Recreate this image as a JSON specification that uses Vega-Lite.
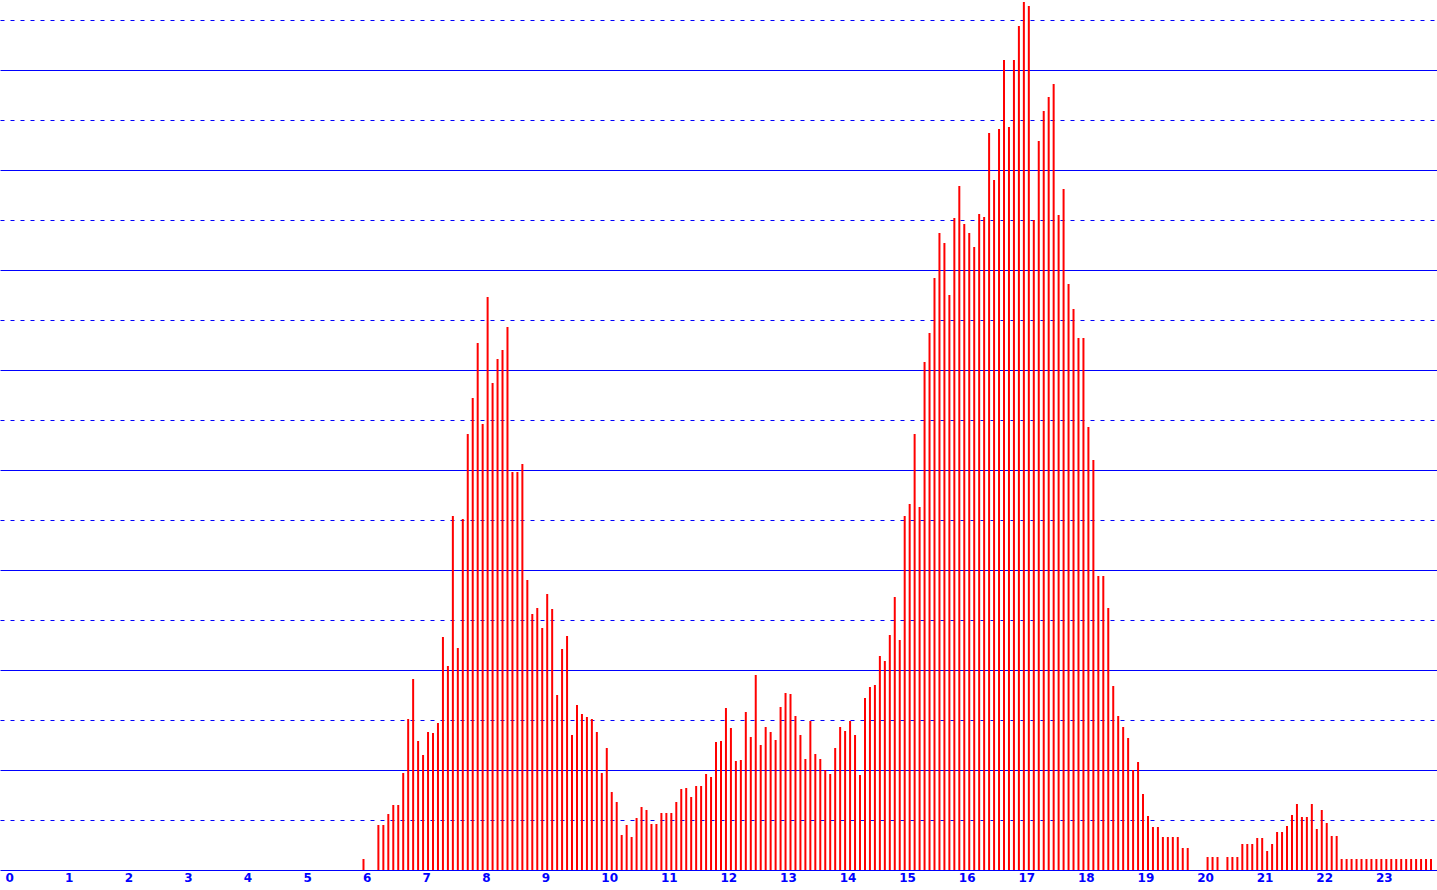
{
  "$schema": "https://vega.github.io/schema/vega-lite/v6.json",
  "width": 1437,
  "height": 870,
  "autosize": {"type": "none"},
  "padding": {"left": 0, "top": 0, "right": 0, "bottom": 20},
  "background": "white",
  "config": {"view": {"stroke": null}},
  "data": {"values": [
    {"t":360,"v":1.1},{"t":365,"v":0},{"t":370,"v":0},{"t":375,"v":4.5},{"t":380,"v":4.5},{"t":385,"v":5.6},
    {"t":390,"v":6.5},{"t":395,"v":6.5},{"t":400,"v":9.7},{"t":405,"v":15.1},{"t":410,"v":19.1},{"t":415,"v":12.9},
    {"t":420,"v":11.5},{"t":425,"v":13.8},{"t":430,"v":13.7},{"t":435,"v":14.7},{"t":440,"v":23.3},{"t":445,"v":20.4},
    {"t":450,"v":35.4},{"t":455,"v":22.2},{"t":460,"v":35.1},{"t":465,"v":43.6},{"t":470,"v":47.2},{"t":475,"v":52.7},
    {"t":480,"v":44.6},{"t":485,"v":57.3},{"t":490,"v":48.7},{"t":495,"v":51.1},{"t":500,"v":52.0},{"t":505,"v":54.3},
    {"t":510,"v":39.8},{"t":515,"v":39.8},{"t":520,"v":40.6},{"t":525,"v":29.0},{"t":530,"v":25.6},{"t":535,"v":26.2},
    {"t":540,"v":24.2},{"t":545,"v":27.6},{"t":550,"v":26.1},{"t":555,"v":17.5},{"t":560,"v":22.1},{"t":565,"v":23.4},
    {"t":570,"v":13.5},{"t":575,"v":16.5},{"t":580,"v":15.6},{"t":585,"v":15.3},{"t":590,"v":15.1},{"t":595,"v":13.8},
    {"t":600,"v":9.7},{"t":605,"v":12.2},{"t":610,"v":7.8},{"t":615,"v":6.8},{"t":620,"v":3.5},{"t":625,"v":4.5},
    {"t":630,"v":3.3},{"t":635,"v":5.2},{"t":640,"v":6.3},{"t":645,"v":6.0},{"t":650,"v":4.6},{"t":655,"v":4.6},
    {"t":660,"v":5.7},{"t":665,"v":5.7},{"t":670,"v":5.7},{"t":675,"v":6.8},{"t":680,"v":8.1},{"t":685,"v":8.2},
    {"t":690,"v":7.3},{"t":695,"v":8.4},{"t":700,"v":8.4},{"t":705,"v":9.6},{"t":710,"v":9.3},{"t":715,"v":12.8},
    {"t":720,"v":12.9},{"t":725,"v":16.2},{"t":730,"v":14.2},{"t":735,"v":10.9},{"t":740,"v":11.0},{"t":745,"v":15.8},
    {"t":750,"v":13.3},{"t":755,"v":19.5},{"t":760,"v":12.5},{"t":765,"v":14.3},{"t":770,"v":13.8},{"t":775,"v":13.0},
    {"t":780,"v":16.3},{"t":785,"v":17.7},{"t":790,"v":17.6},{"t":795,"v":15.4},{"t":800,"v":13.5},{"t":805,"v":11.1},
    {"t":810,"v":14.9},{"t":815,"v":11.6},{"t":820,"v":11.1},{"t":825,"v":10.0},{"t":830,"v":9.6},{"t":835,"v":12.2},
    {"t":840,"v":14.3},{"t":845,"v":13.9},{"t":850,"v":14.9},{"t":855,"v":13.5},{"t":860,"v":9.5},{"t":865,"v":17.2},
    {"t":870,"v":18.3},{"t":875,"v":18.5},{"t":880,"v":21.4},{"t":885,"v":20.9},{"t":890,"v":23.5},{"t":895,"v":27.3},
    {"t":900,"v":23.0},{"t":905,"v":35.4},{"t":910,"v":36.6},{"t":915,"v":43.6},{"t":920,"v":36.3},{"t":925,"v":50.8},
    {"t":930,"v":53.7},{"t":935,"v":59.2},{"t":940,"v":63.7},{"t":945,"v":62.7},{"t":950,"v":57.5},{"t":955,"v":65.2},
    {"t":960,"v":68.4},{"t":965,"v":64.6},{"t":970,"v":63.7},{"t":975,"v":62.3},{"t":980,"v":65.6},{"t":985,"v":65.3},
    {"t":990,"v":73.7},{"t":995,"v":69.0},{"t":1000,"v":74.1},{"t":1005,"v":81.0},{"t":1010,"v":74.3},{"t":1015,"v":81.0},
    {"t":1020,"v":84.4},{"t":1025,"v":86.8},{"t":1030,"v":86.4},{"t":1035,"v":65.0},{"t":1040,"v":72.9},{"t":1045,"v":75.9},
    {"t":1050,"v":77.3},{"t":1055,"v":78.6},{"t":1060,"v":65.5},{"t":1065,"v":68.1},{"t":1070,"v":58.6},{"t":1075,"v":56.1},
    {"t":1080,"v":53.2},{"t":1085,"v":53.2},{"t":1090,"v":44.3},{"t":1095,"v":41.0},{"t":1100,"v":29.4},{"t":1105,"v":29.4},
    {"t":1110,"v":26.2},{"t":1115,"v":18.4},{"t":1120,"v":15.4},{"t":1125,"v":14.3},{"t":1130,"v":13.2},{"t":1135,"v":10.0},
    {"t":1140,"v":10.8},{"t":1145,"v":7.6},{"t":1150,"v":5.4},{"t":1155,"v":4.3},{"t":1160,"v":4.3},{"t":1165,"v":3.3},
    {"t":1170,"v":3.3},{"t":1175,"v":3.3},{"t":1180,"v":3.3},{"t":1185,"v":2.2},{"t":1190,"v":2.2},{"t":1195,"v":0},
    {"t":1200,"v":0},{"t":1205,"v":0},{"t":1210,"v":1.3},{"t":1215,"v":1.3},{"t":1220,"v":1.3},{"t":1225,"v":0},
    {"t":1230,"v":1.3},{"t":1235,"v":1.3},{"t":1240,"v":1.3},{"t":1245,"v":2.6},{"t":1250,"v":2.6},{"t":1255,"v":2.6},
    {"t":1260,"v":3.2},{"t":1265,"v":3.2},{"t":1270,"v":1.9},{"t":1275,"v":2.6},{"t":1280,"v":3.8},{"t":1285,"v":3.8},
    {"t":1290,"v":4.4},{"t":1295,"v":5.5},{"t":1300,"v":6.6},{"t":1305,"v":5.3},{"t":1310,"v":5.3},{"t":1315,"v":6.6},
    {"t":1320,"v":4.1},{"t":1325,"v":6.0},{"t":1330,"v":4.7},{"t":1335,"v":3.4},{"t":1340,"v":3.4},{"t":1345,"v":1.1},
    {"t":1350,"v":1.1},{"t":1355,"v":1.1},{"t":1360,"v":1.1},{"t":1365,"v":1.1},{"t":1370,"v":1.1},{"t":1375,"v":1.1},
    {"t":1380,"v":1.1},{"t":1385,"v":1.1},{"t":1390,"v":1.1},{"t":1395,"v":1.1},{"t":1400,"v":1.1},{"t":1405,"v":1.1},
    {"t":1410,"v":1.1},{"t":1415,"v":1.1},{"t":1420,"v":1.1},{"t":1425,"v":1.1},{"t":1430,"v":1.1},{"t":1435,"v":1.1}
  ]},
  "mark": {"type": "bar", "color": "#FF0000", "width": 2},
  "encoding": {
    "x": {
      "field": "t", "type": "quantitative",
      "scale": {"domain": [-1, 1436], "nice": false, "zero": false},
      "axis": {
        "title": null,
        "values": [0,60,120,180,240,300,360,420,480,540,600,660,720,780,840,900,960,1020,1080,1140,1200,1260,1320,1380],
        "labelExpr": "datum.value / 60",
        "labelAlign": "left",
        "labelBaseline": "top",
        "labelOffset": -1,
        "labelFlush": false,
        "labelOverlap": false,
        "labelBound": false,
        "labelPadding": 2,
        "labelFont": "DejaVu Sans",
        "labelFontSize": 12,
        "labelFontWeight": "bold",
        "labelColor": "#0000FF",
        "ticks": false,
        "domain": false,
        "grid": false
      }
    },
    "y": {
      "field": "v", "type": "quantitative",
      "scale": {"domain": [0, 87], "nice": false, "zero": true},
      "axis": {
        "title": null,
        "values": [0,5,10,15,20,25,30,35,40,45,50,55,60,65,70,75,80,85],
        "labels": false,
        "ticks": false,
        "domain": false,
        "grid": true,
        "gridColor": "#0000FF",
        "gridOpacity": 1,
        "gridWidth": 1,
        "gridDash": {"condition": {"test": "datum.value % 10 !== 0", "value": [4, 6]}, "value": []}
      }
    }
  }
}
